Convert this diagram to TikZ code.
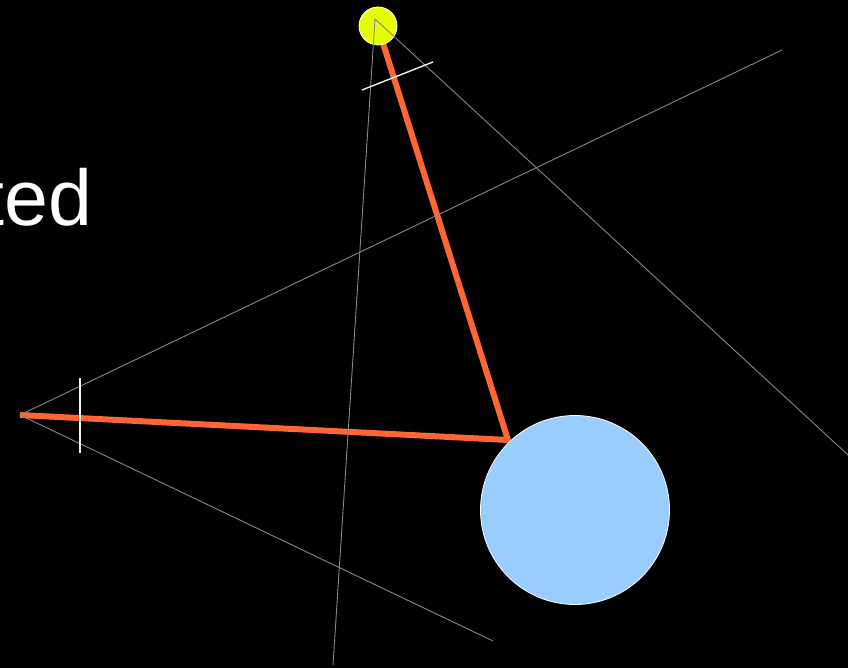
\documentclass[tikz,border=0pt]{standalone}
\usepackage{fontspec}
\setmainfont{Liberation Sans}
\definecolor{orangeline}{HTML}{FF6633}
\definecolor{bluefill}{HTML}{99CCFF}
\definecolor{yellowfill}{HTML}{E6FF00}
\definecolor{guide}{HTML}{888888}
\begin{document}
\begin{tikzpicture}[x=1pt,y=-1pt,
  rod/.style={draw=orangeline,line width=6pt},
  guideline/.style={draw=guide,line width=0.9pt},
  tick/.style={draw=white!90!gray,line width=1.4pt},
  bob/.style={circle,draw=white,line width=0.8pt,inner sep=0pt}]
\fill[black] (0,0) rectangle (848,668);
\useasboundingbox (0,0) rectangle (848,668);
\node[anchor=base east,inner sep=0pt,text=white,font=\fontsize{79}{79}\selectfont] (label) at (93,226) {ted};
\coordinate (apexL) at (20,415);
\coordinate (apexT) at (375,19);
\coordinate (joint) at (508,440);
\coordinate (endA) at (782,50);
\coordinate (endB) at (493,641);
\coordinate (endC) at (333,665);
\coordinate (endD) at (860,466);
\coordinate (t1a) at (80,378);
\coordinate (t1b) at (80,453);
\coordinate (t2a) at (362,90);
\coordinate (t2b) at (433,62);
\draw[rod,line join=miter] (apexL) -- (joint) -- (382,40);
\node[bob,fill=yellowfill,minimum size=38pt] (top) at (378,26) {};
\node[bob,fill=bluefill,minimum size=189pt] (ball) at (575,510) {};
\draw[guideline] (endA) -- (apexL) -- (endB);
\draw[guideline] (endC) -- (apexT) -- (endD);
\draw[tick] (t1a) -- (t1b);
\draw[tick] (t2a) -- (t2b);
\end{tikzpicture}
\end{document}
